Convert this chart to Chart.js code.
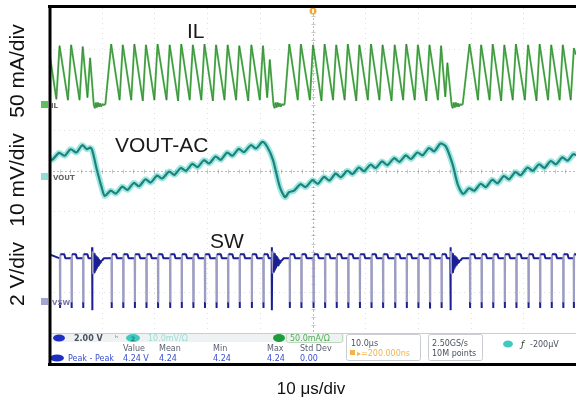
<!DOCTYPE html>
<html>
<head>
<meta charset="utf-8">
<script src="https://cdn.jsdelivr.net/npm/chart.js@4.4.1/dist/chart.umd.min.js"></script>
<style>
html,body{margin:0;padding:0;background:#ffffff;overflow:hidden;}
canvas{display:block;}
</style>
</head>
<body>
<canvas id="scope" width="576" height="404"></canvas>
<script>
// ---------------- data ----------------
const timeRangeUs = [0, 100];               // 10 div x 10 μs/div
const xTitle = '10 μs/div';
const channelScales = ['50 mA/div', '10 mV/div', '2 V/div'];
const traceLabels = ['IL', 'VOUT-AC', 'SW'];

// Inductor current: [time μs, current mA]
const ilTrace = [
  [0,68],[1.4,7],[2.0,73],[3.6,6],[4.2,74],[5.8,6],[6.4,72],[7.3,9],[7.8,58],
  [8.5,0],[8.7,-4],[8.9,3],[9.1,-3],[9.3,3],[9.5,-2],[9.7,2],[9.9,-2],[10.1,1],[10.4,0],[10.7,1],[11.8,75],
  [13.4,6],[14.0,74],[15.6,6],[16.2,75],[17.8,5],[18.4,74],[20.0,6],[20.6,75],[22.3,6],[22.9,74],
  [24.5,5],[25.1,75],[26.7,6],[27.3,74],[28.9,6],[29.5,75],[31.1,5],[31.7,74],[33.3,6],[33.9,74],
  [35.5,6],[36.1,73],[37.8,5],[38.4,74],[40.0,6],[40.6,73],[41.4,9],[41.9,56],
  [42.6,0],[42.8,-4],[43.0,3],[43.2,-3],[43.4,3],[43.6,-2],[43.8,2],[44.0,-2],[44.2,1],[44.5,0],[44.7,1],[45.6,75],
  [47.2,6],[47.8,75],[49.5,6],[50.1,74],[51.7,5],[52.3,75],[53.9,6],[54.5,74],[56.1,6],[56.7,75],
  [58.3,5],[58.9,74],[60.5,6],[61.1,75],[62.7,6],[63.3,74],[65.0,5],[65.6,74],[67.2,6],[67.8,75],
  [69.4,6],[70.0,74],[71.6,5],[72.2,74],[73.8,6],[74.4,73],[75.2,10],[75.6,52],
  [76.4,0],[76.6,-4],[76.8,3],[77.0,-3],[77.2,3],[77.4,-2],[77.6,2],[77.8,-2],[78.0,1],[78.3,0],[78.5,1],[79.8,75],
  [81.4,6],[82.0,74],[83.6,6],[84.2,75],[85.8,5],[86.4,74],[88.0,6],[88.6,75],[90.3,6],[90.9,74],
  [92.5,5],[93.1,75],[94.7,6],[95.3,74],[96.9,6],[97.5,74],[99.0,6],[99.6,70],[100,62]
];

// Output voltage, AC coupled: [time μs, mV]
const voutTrace = [
  [0,3.6],[0.6,3.0],[1.9,4.7],[3.0,4.0],[4.1,5.6],[5.2,4.8],[6.3,6.6],[7.2,5.6],[7.8,6.0],
  [8.2,5.4],[9.0,1.0],[10.0,-3.8],[10.6,-5.9],
  [11.7,-4.6],[12.7,-5.3],[13.9,-3.6],[14.9,-4.4],[16.1,-2.7],[17.1,-3.5],[18.3,-1.8],[19.3,-2.6],
  [20.5,-0.9],[21.5,-1.6],[22.8,0.1],[23.8,-0.7],[25.0,1.0],[26.0,0.3],[27.2,2.0],[28.2,1.2],
  [29.4,2.9],[30.4,2.1],[31.6,3.8],[32.6,3.0],[33.8,4.8],[34.8,4.0],[36.0,5.7],[37.0,4.9],
  [38.3,6.6],[39.3,5.8],[40.5,7.4],
  [41.4,6.2],[42.5,3.0],[43.8,-3.7],[44.8,-6.2],
  [45.5,-5.0],[46.5,-4.6],[47.7,-3.0],[48.7,-3.7],[50.0,-2.0],[51.0,-2.9],[52.2,-1.2],[53.2,-2.1],
  [54.4,-0.4],[55.4,-1.3],[56.6,0.3],[57.6,-0.5],[58.8,1.1],[59.8,0.2],[61.0,1.8],[62.0,1.0],
  [63.2,2.6],[64.2,1.7],[65.5,3.4],[66.5,2.5],[67.7,4.1],[68.7,3.2],[69.9,4.8],[70.9,4.1],
  [72.1,5.9],[73.1,5.1],[74.3,7.0],
  [75.3,6.3],[76.6,1.8],[77.6,-3.2],[78.6,-5.4],
  [79.7,-4.0],[80.7,-4.6],[81.9,-2.9],[82.9,-3.7],[84.1,-1.9],[85.1,-2.8],[86.3,-1.0],[87.3,-1.8],
  [88.5,0.0],[89.5,-0.8],[90.8,1.1],[91.8,0.3],[93.0,1.9],[94.0,1.0],[95.2,2.7],[96.2,1.9],
  [97.4,3.6],[98.4,2.8],[99.5,4.4],[100,4.1]
];

// Switch node: times of the low-going pulses (μs), skipped-cycle ringing events, levels (V)
const swPulseTimes = [2.1,4.3,6.5,11.9,14.1,16.3,18.5,20.7,23.0,25.2,27.4,29.6,31.8,34.0,36.2,38.5,40.7,
  45.7,47.9,50.2,52.4,54.6,56.8,59.0,61.2,63.4,65.7,67.9,70.1,72.3,74.5,
  79.9,82.1,84.3,86.5,88.7,91.0,93.2,95.4,97.6,99.6];
const swSkipTimes = [8.2, 42.3, 76.2];
const swRingVolts = [2.5,1.4,2.45,1.45,2.4,1.55,2.3,1.65,2.25,1.75,2.2,1.8,2.12,1.88,2.06,1.94,2.02];
const swHighV = 2.15, swAfterV = 2.35, swLowV = -0.3, swTipV = 0.0;
const swSpikeTopV = 2.7, swSpikeLowV = -0.4, swSettleV = 2.05;

// measurement panel texts
const measHeaders = ['Value','Mean','Min','Max','Std Dev'];
const measValues = ['4.24 V','4.24','4.24','4.24','0.00'];

// ---------------- layout ----------------
const AREA = {left:49, top:6, right:576, bottom:364};
const GRAT_TOP = 8, GRAT_BOTTOM = 333;
const PX_DIV = (GRAT_BOTTOM - GRAT_TOP) / 8;
function axisRange(zeroPx, perDiv){
  return {min: -(AREA.bottom - zeroPx) / PX_DIV * perDiv, max: (zeroPx - AREA.top) / PX_DIV * perDiv};
}
const rIL = axisRange(105, 50), rV = axisRange(172, 10), rSW = axisRange(302, 2), rDiv = axisRange(GRAT_BOTTOM, 1);

// ---------------- build point lists ----------------
const ilPts = ilTrace.map(([t,v]) => ({x:t, y:v}));
const voutPts = voutTrace.map(([t,v]) => ({x:t, y:v}));

function buildSW(){
  const ev = swPulseTimes.map(t => ({t, k:'p'})).concat(swSkipTimes.map(t => ({t, k:'s'})));
  ev.sort((a,b) => a.t - b.t);
  const pts = [{x:0, y:swAfterV}];
  for (const e of ev){
    const p = e.t;
    if (e.k === 'p'){
      pts.push({x:p-0.05, y:swHighV},{x:p-0.01, y:swTipV},{x:p, y:swLowV},{x:p+0.01, y:swTipV},
               {x:p+0.05, y:swAfterV},{x:p+0.8, y:swAfterV},{x:p+1.0, y:swHighV});
    } else {
      pts.push({x:p-0.05, y:swHighV},{x:p-0.02, y:swSpikeTopV},{x:p, y:swSpikeLowV});
      swRingVolts.forEach((v,i) => pts.push({x:p+0.06+0.1*i, y:v}));
      pts.push({x:p+1.9, y:swSettleV},{x:p+2.2, y:swHighV});
    }
  }
  pts.push({x:100, y:swAfterV});
  return pts;
}
const swPts = buildSW();

// ---------------- plugins ----------------
const graticule = {
  id:'graticule',
  beforeDatasetsDraw(chart){
    const c = chart.ctx, xs = chart.scales.x, yd = chart.scales.yDiv;
    c.save();
    c.lineWidth = 1;
    c.strokeStyle = 'rgba(140,140,140,0.28)';
    c.setLineDash([1,4]);
    for (let i=1;i<10;i++){
      if (i===5) continue;
      const x = Math.round(xs.getPixelForValue(i*10))+0.5;
      c.beginPath(); c.moveTo(x, GRAT_TOP); c.lineTo(x, GRAT_BOTTOM); c.stroke();
    }
    for (let j=1;j<8;j++){
      if (j===4) continue;
      const y = Math.round(yd.getPixelForValue(j))+0.5;
      c.beginPath(); c.moveTo(AREA.left, y); c.lineTo(AREA.right, y); c.stroke();
    }
    c.strokeStyle = 'rgba(130,130,130,0.55)';
    c.setLineDash([2,2]);
    const cx = Math.round(xs.getPixelForValue(50))+0.5;
    const cy = Math.round(yd.getPixelForValue(4))+0.5;
    c.beginPath(); c.moveTo(cx, GRAT_TOP+6); c.lineTo(cx, GRAT_BOTTOM); c.stroke();
    c.beginPath(); c.moveTo(AREA.left, cy); c.lineTo(AREA.right, cy); c.stroke();
    c.setLineDash([]);
    c.strokeStyle = 'rgba(130,130,130,0.45)';
    for (let k=1;k<40;k++){
      const y = Math.round(yd.getPixelForValue(k*0.2))+0.5;
      c.beginPath(); c.moveTo(cx-2, y); c.lineTo(cx+2, y); c.stroke();
    }
    for (let k=1;k<50;k++){
      const x = Math.round(xs.getPixelForValue(k*2))+0.5;
      c.beginPath(); c.moveTo(x, cy-2); c.lineTo(x, cy+2); c.stroke();
    }
    c.restore();
  }
};

function oval(c, x, y, rx, ry, col){
  c.beginPath(); c.ellipse(x, y, rx, ry, 0, 0, Math.PI*2); c.fillStyle = col; c.fill();
}
function txt(c, s, x, y, font, col, align){
  c.font = font; c.fillStyle = col; c.textAlign = align || 'left'; c.textBaseline = 'alphabetic';
  c.fillText(s, x, y);
}
function roundRect(c, x, y, w, h, r, col){
  c.beginPath(); c.roundRect(x, y, w, h, r); c.strokeStyle = col; c.lineWidth = 1; c.stroke();
}

const overlay = {
  id:'overlay',
  afterDatasetsDraw(chart){
    const c = chart.ctx;
    c.save();
    c.fillStyle = '#ffffff';
    c.fillRect(AREA.left, GRAT_BOTTOM, AREA.right-AREA.left, AREA.bottom-GRAT_BOTTOM);
    c.strokeStyle = '#c8ced2'; c.lineWidth = 1;
    c.beginPath(); c.moveTo(AREA.left, GRAT_BOTTOM+0.5); c.lineTo(AREA.right, GRAT_BOTTOM+0.5); c.stroke();
    c.fillStyle = '#eef2f3'; c.fillRect(52, 334, 292, 8);
    const f = '8px "DejaVu Sans"', fb = 'bold 8px "DejaVu Sans"';
    oval(c, 59, 338, 6, 3.5, '#1d2fc4');
    txt(c, '2.00 V', 74, 341, fb, '#4a5160');
    txt(c, 'ʰ', 115, 341, f, '#777');
    oval(c, 133, 338, 7, 4, '#3fcabf');
    txt(c, '2', 133, 341, 'bold 6px "DejaVu Sans"', '#1f7f78', 'center');
    txt(c, '10.0mV/Ω', 148, 341, f, '#9adcd6');
    oval(c, 279, 338, 6, 4, '#1e9b3b');
    txt(c, '50.0mA/Ω', 290, 341, f, '#4fae4f');
    roundRect(c, 286.5, 333.5, 56, 9, 2, '#bcd9bc');
    const colsX = [123, 159, 213, 267, 300];
    measHeaders.forEach((h,i) => txt(c, h, colsX[i], 351, f, '#5a6070'));
    oval(c, 57, 358, 7, 3.5, '#1d2fc4');
    txt(c, 'Peak - Peak', 68, 361, f, '#3a4fd0');
    measValues.forEach((v,i) => txt(c, v, colsX[i], 361, f, '#3a4fd0'));
    roundRect(c, 346.5, 334.5, 74, 26, 2, '#c9cdd2');
    txt(c, '10.0μs', 351, 346, f, '#4a5160');
    c.fillStyle = '#f3b54a'; c.fillRect(350, 350, 5, 5);
    txt(c, '▸=200.000ns', 357, 356, f, '#f3b54a');
    roundRect(c, 428.5, 334.5, 54, 26, 2, '#c9cdd2');
    txt(c, '2.50GS/s', 432, 346, f, '#4a5160');
    txt(c, '10M points', 432, 356, f, '#4a5160');
    oval(c, 508, 344, 5, 3.5, '#3fcabf');
    txt(c, 'ƒ', 521, 347, 'italic 9px "DejaVu Sans"', '#333');
    txt(c, '-200μV', 530, 347, f, '#4a5160');

    c.fillStyle = '#5cbf5c'; c.fillRect(41, 101, 7, 7);
    txt(c, 'IL', 51, 108, 'bold 7px "DejaVu Sans"', '#666');
    c.fillStyle = '#93dbd5'; c.fillRect(41, 173, 7, 7);
    txt(c, 'VOUT', 53, 180, 'bold 7px "DejaVu Sans"', '#666');
    c.fillStyle = '#a4a4d4'; c.fillRect(41, 298, 7, 7);
    txt(c, 'VSW', 52, 305, 'bold 7px "DejaVu Sans"', '#7777aa');

    const tx = Math.round(chart.scales.x.getPixelForValue(50));
    oval(c, tx, 11, 3.5, 3.5, '#f2a73b');
    c.fillStyle = '#fff6e0'; c.fillRect(tx-1, 9, 2, 4);

    const lf = '21px "Liberation Sans", Arial';
    txt(c, traceLabels[0], 187, 38, lf, '#1a1a1a');
    txt(c, traceLabels[1], 115, 152, lf, '#1a1a1a');
    txt(c, traceLabels[2], 210, 248, lf, '#1a1a1a');

    c.strokeStyle = '#000'; c.lineWidth = 3;
    c.beginPath(); c.moveTo(48, 6.5); c.lineTo(576, 6.5); c.stroke();
    c.beginPath(); c.moveTo(50, 5); c.lineTo(50, 366); c.stroke();
    c.beginPath(); c.moveTo(48, 364.5); c.lineTo(576, 364.5); c.stroke();
    c.restore();
  },
  afterDraw(chart){
    const c = chart.ctx;
    c.save();
    c.fillStyle = '#111';
    c.font = '21px "Liberation Sans", Arial';
    c.textAlign = 'center'; c.textBaseline = 'middle';
    const ys = [71, 180, 274];
    channelScales.forEach((s,i) => {
      c.save(); c.translate(18, ys[i]); c.rotate(-Math.PI/2); c.fillText(s, 0, 0); c.restore();
    });
    c.font = '17px "Liberation Sans", Arial';
    c.fillText(xTitle, 311, 389);
    c.restore();
  }
};

const pulseGrey = '#9d9dc2', swNavy = '#1b1f92';

new Chart(document.getElementById('scope'), {
  type:'line',
  data:{ datasets:[
    {label:'VOUT-AC', data:voutPts, yAxisID:'yV', borderColor:'#21817a', borderWidth:2.2, tension:0.25, pointRadius:0},
    {label:'VOUT-AC halo', data:voutPts, yAxisID:'yV', borderColor:'rgba(70,214,200,0.55)', borderWidth:6, tension:0.25, pointRadius:0},
    {label:'IL core', data:ilPts, yAxisID:'yIL', borderColor:'rgba(45,80,45,0.55)', borderWidth:0.8, pointRadius:0, borderJoinStyle:'bevel'},
    {label:'IL', data:ilPts, yAxisID:'yIL', borderColor:'rgba(70,185,70,0.9)', borderWidth:2, pointRadius:0, borderJoinStyle:'bevel'},
    {label:'SW', data:swPts, yAxisID:'ySW', borderColor:swNavy, borderWidth:2, pointRadius:0, borderJoinStyle:'bevel',
     segment:{ borderColor: ctx => {
       const a = ctx.p0.parsed.y, b = ctx.p1.parsed.y;
       if (Math.abs(a-b) > 1 && Math.max(a,b) < 2.6 && Math.min(a,b) > -0.35) return pulseGrey;
       return undefined;
     }}}
  ]},
  options:{
    responsive:false, animation:false, devicePixelRatio:1,
    layout:{padding:{left:AREA.left, top:AREA.top, right:576-AREA.right, bottom:404-AREA.bottom}},
    plugins:{legend:{display:false}, tooltip:{enabled:false}},
    scales:{
      x:{type:'linear', min:timeRangeUs[0], max:timeRangeUs[1], display:false},
      yIL:{type:'linear', min:rIL.min, max:rIL.max, display:false},
      yV:{type:'linear', min:rV.min, max:rV.max, display:false},
      ySW:{type:'linear', min:rSW.min, max:rSW.max, display:false},
      yDiv:{type:'linear', min:rDiv.min, max:rDiv.max, display:false}
    }
  },
  plugins:[graticule, overlay]
});
</script>
</body>
</html>
